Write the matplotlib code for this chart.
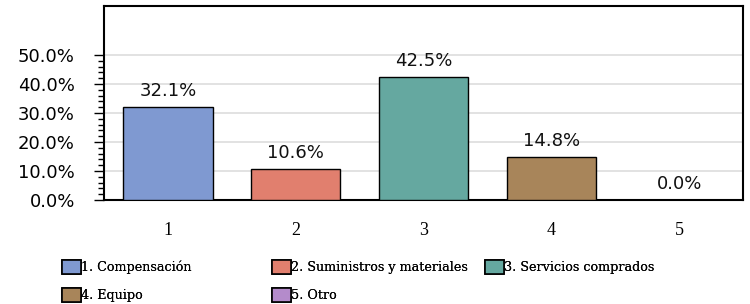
import matplotlib.pyplot as plt
from matplotlib.patches import Patch
from matplotlib.ticker import FixedLocator, FuncFormatter

categories = ['1', '2', '3', '4', '5']
values = [0.321, 0.106, 0.425, 0.148, 0.0]
legend_labels = ['1. Compensación', '2. Suministros y materiales', '3. Servicios comprados',
                 '4. Equipo', '5. Otro']
colors = ['#7F99D1', '#E17F6E', '#65A8A0', '#A8855A', '#B48BCB']

fig = plt.figure(figsize=(7.5, 3.04), dpi=100)
ax = fig.add_axes([0.1387, 0.342, 0.852, 0.638])

x = list(range(1, len(categories) + 1))
ax.bar(x, values, width=0.70, color=colors, edgecolor='black', linewidth=1.0, zorder=3)
for xi, v in zip(x, values):
    ax.annotate(f'{v * 100:.1f}%', (xi, v), xytext=(0, 5), textcoords='offset points',
                ha='center', va='bottom', fontsize=13, family='DejaVu Sans', color='#111111')

ax.set_xlim(0.5, 5.5)
ax.set_ylim(0, 0.669)
ax.yaxis.set_major_locator(FixedLocator([0, 0.1, 0.2, 0.3, 0.4, 0.5]))
ax.yaxis.set_minor_locator(FixedLocator([i * 0.02 for i in range(26)]))
ax.yaxis.set_major_formatter(FuncFormatter(lambda v, p: f'{v * 100:.1f}%'))
ax.tick_params(axis='y', which='major', length=7, width=1, labelsize=13, pad=14)
ax.tick_params(axis='y', which='minor', length=4, width=1)
ax.set_xticks(x)
ax.set_xticklabels(categories, family='Liberation Serif', fontsize=13)
ax.tick_params(axis='x', length=0, pad=16)
ax.grid(axis='y', which='major', color='#DDDDDD', linewidth=1.2, zorder=0)
for s in ax.spines.values():
    s.set_linewidth(1.5)

handles = [Patch(facecolor=c, edgecolor='black', linewidth=1.2) for c in colors]
# one legend per column so the columns line up like the original
columns = [([0, 3], 0.082), ([1, 4], 0.362), ([2], 0.646)]
for idx, x0 in columns:
    leg = fig.legend([handles[i] for i in idx], [legend_labels[i] for i in idx],
                     loc='upper left', bbox_to_anchor=(x0, 0.145), frameon=False,
                     prop={'family': 'DejaVu Serif', 'size': 9.2},
                     handlelength=1.5, handleheight=1.3, handletextpad=0.05,
                     labelspacing=1.05, borderaxespad=0, borderpad=0)
    fig.add_artist(leg)

fig.savefig('out.png', dpi=100)
